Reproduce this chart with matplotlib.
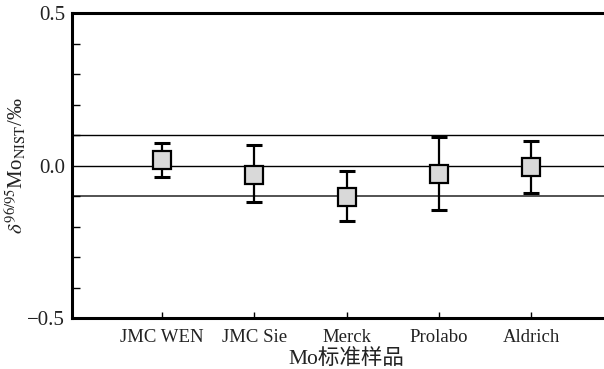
import numpy as np
import matplotlib.pyplot as plt

plt.rcParams['font.family'] = ['Liberation Serif', 'Noto Sans CJK SC']
plt.rcParams['mathtext.fontset'] = 'stix'

samples = ['JMC WEN', 'JMC Sie', 'Merck', 'Prolabo', 'Aldrich']
delta = [0.019, -0.032, -0.102, -0.028, -0.005]
err_up = [0.073, 0.066, -0.019, 0.095, 0.081]
err_low = [-0.038, -0.12, -0.183, -0.146, -0.091]
ref_lines = [0.1, 0.0, -0.1]

x = np.arange(1, len(samples) + 1)
delta = np.array(delta)
yerr = [delta - np.array(err_low), np.array(err_up) - delta]

fig = plt.figure(figsize=(6.04, 3.69), dpi=100)
ax = fig.add_axes([72 / 604, 1 - 318 / 369, 1 - 72 / 604 + 0.01, (318 - 13) / 369])

ax.axhline(ref_lines[0], color='black', lw=1.0, zorder=1)
ax.axhline(ref_lines[1], color='black', lw=1.0, zorder=1)
ax.axhline(ref_lines[2], color='#444444', lw=1.3, zorder=1)

ax.errorbar(x, delta, yerr=yerr, fmt='none', ecolor='black', elinewidth=1.6,
            capsize=5.5, capthick=2.2, zorder=2)
ax.plot(x, delta, 's', ms=12.5, mfc='#d9d9d9', mec='black', mew=1.6, zorder=3)

ax.set_xlim(0.03, 5.85)
ax.set_ylim(-0.5, 0.5)
ax.set_xticks(x)
ax.set_xticklabels(samples, fontsize=13.5, color='#222222')
ax.set_yticks([-0.5, 0.0, 0.5])
ax.set_yticklabels(['\u22120.5', '0.0', '0.5'], fontsize=15, color='#222222')
ax.set_yticks(np.arange(-0.4, 0.45, 0.1), minor=True)
ax.tick_params(axis='y', which='both', direction='in', length=6, width=1, left=True, right=False, pad=5)
ax.tick_params(axis='y', which='major', length=0)
ax.tick_params(axis='x', direction='in', length=4, width=1, top=False, pad=8)

for side in ['left', 'bottom', 'top']:
    ax.spines[side].set_linewidth(2.2)
ax.spines['right'].set_visible(False)

ax.set_xlabel('Mo标准样品', fontsize=15.5, color='#222222')
ax.set_ylabel(r'$\delta^{96/95}$Mo$_{\rm NIST}$/‰', fontsize=15, color='#222222')
ax.xaxis.set_label_coords(0.51, -0.1)
ax.yaxis.set_label_coords(-0.082, 0.5)

fig.savefig('out.png', dpi=100)
